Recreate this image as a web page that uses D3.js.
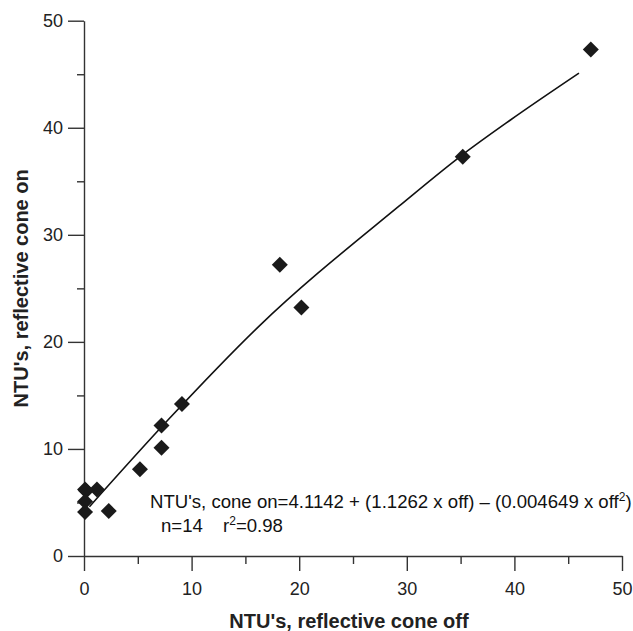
<!DOCTYPE html>
<html><head><meta charset="utf-8">
<script src="https://cdn.jsdelivr.net/npm/d3@7"></script>
<style>
html,body{margin:0;padding:0;background:#fff;}
svg{display:block;font-family:"Liberation Sans",Arial,Helvetica,sans-serif;}
</style></head>
<body>
<svg id="chart" width="633" height="631"></svg>
<script>
// Observations (NTU's, reflective cone off vs on)
const offValues = [0.1, 1.2, 0.2, 0.1, 0.1, 2.3, 5.2, 7.2, 7.2, 9.1, 18.2, 20.2, 35.2, 47.1];
const onValues  = [6.2, 6.2, 6.1, 5.1, 4.1, 4.2, 8.1, 10.1, 12.2, 14.2, 27.2, 23.2, 37.3, 47.3];
// Fitted curve
const fitOff = [0.5, 7.8, 16.3, 29.3, 35.2, 39.6, 46.0];
const fitOn  = [4.6, 12.7, 21.5, 32.7, 37.5, 40.7, 45.1];
// Ticks
const majorTicks = [0, 10, 20, 30, 40, 50];
const minorTicks = [5, 15, 25, 35, 45];
const xTitle = "NTU's, reflective cone off";
const yTitle = "NTU's, reflective cone on";

const svg = d3.select("#chart");
const x = d3.scaleLinear().domain([0, 50]).range([84, 622]);
const y = d3.scaleLinear().domain([0, 50]).range([556, 20.7]);
const axisColor = "#333";

// X axis
const gx = svg.append("g").attr("transform", `translate(0,${y(0)})`);
gx.call(d3.axisBottom(x).tickValues(majorTicks).tickSize(15).tickSizeOuter(0).tickPadding(11));
gx.append("g").call(d3.axisBottom(x).tickValues(minorTicks).tickSize(8).tickFormat(""))
  .select(".domain").remove();
// Y axis
const gy = svg.append("g").attr("transform", `translate(${x(0)},0)`);
gy.call(d3.axisLeft(y).tickValues(majorTicks).tickSize(16).tickSizeOuter(0).tickPadding(5));
gy.append("g").call(d3.axisLeft(y).tickValues(minorTicks).tickSize(7).tickFormat(""))
  .select(".domain").remove();

svg.selectAll(".domain").attr("stroke", axisColor).attr("stroke-width", 1.4);
svg.selectAll(".tick line").attr("stroke", axisColor).attr("stroke-width", 1.4);
svg.selectAll(".tick text").attr("font-size", 18).attr("fill", "#222")
  .attr("font-family", "'Liberation Sans', Arial, sans-serif");

// Fitted curve
const fitData = fitOff.map((v, i) => [v, fitOn[i]]);
svg.append("path")
  .datum(fitData)
  .attr("fill", "none")
  .attr("stroke", "#111")
  .attr("stroke-width", 1.6)
  .attr("d", d3.line().x(d => x(d[0])).y(d => y(d[1])).curve(d3.curveMonotoneX));

// Diamonds
const h = 8;
const diamond = `M0,${-h}L${h},0L0,${h}L${-h},0Z`;
svg.append("g").selectAll("path")
  .data(offValues.map((v, i) => [v, onValues[i]]))
  .join("path")
  .attr("d", diamond)
  .attr("transform", d => `translate(${x(d[0])},${y(d[1])})`)
  .attr("fill", "#1a1a1a");

// Equation text
const eq = svg.append("text").attr("x", 150).attr("y", 508).attr("font-size", 18.6).attr("fill", "#111");
eq.append("tspan").text("NTU's, cone on=4.1142 + (1.1262 x off) \u2013 (0.004649 x off");
eq.append("tspan").attr("font-size", 12).attr("dy", -7).text("2");
eq.append("tspan").attr("dy", 7).text(")");

const eq2 = svg.append("text").attr("y", 531.7).attr("font-size", 18.6).attr("fill", "#111");
eq2.append("tspan").attr("x", 161).text("n=14");
eq2.append("tspan").attr("x", 223).text("r");
eq2.append("tspan").attr("font-size", 12).attr("dy", -7).text("2");
eq2.append("tspan").attr("dy", 7).text("=0.98");

// Axis titles
svg.append("text")
  .attr("x", 349).attr("y", 628)
  .attr("text-anchor", "middle")
  .attr("font-size", 20).attr("font-weight", "bold").attr("fill", "#222")
  .text(xTitle);
svg.append("text")
  .attr("transform", `translate(28,${(y(0) + y(50)) / 2}) rotate(-90)`)
  .attr("text-anchor", "middle")
  .attr("font-size", 20).attr("font-weight", "bold").attr("fill", "#222")
  .text(yTitle);
</script>
</body></html>
